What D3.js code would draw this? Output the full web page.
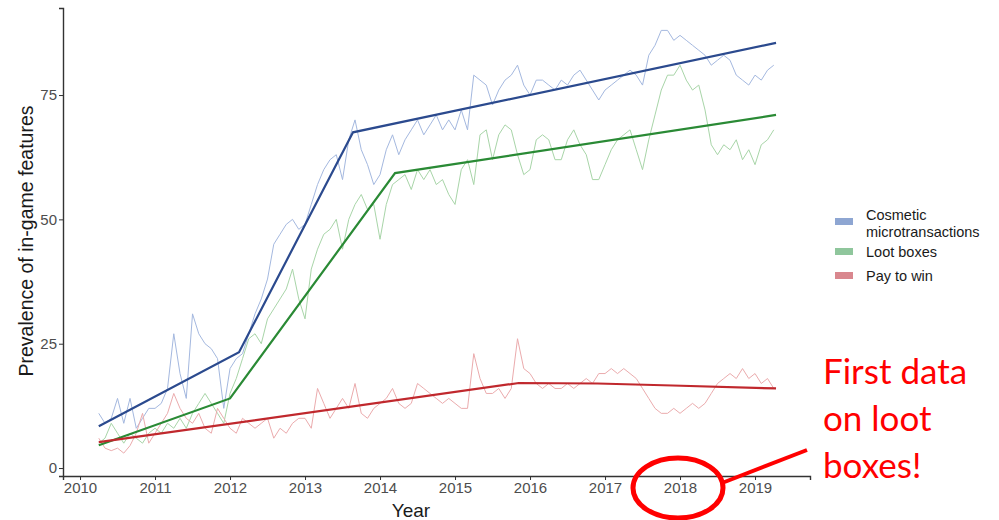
<!DOCTYPE html>
<html lang="en">
<head>
<meta charset="UTF-8">
<title>Prevalence of in-game features</title>
<style>
  body { margin: 0; background: #fff; }
  svg text { font-family: "Liberation Sans", Arial, sans-serif; }
</style>
</head>
<body>
<script src="https://d3js.org/d3.v7.min.js"></script>
<script>

// monthly readings, first one at 2010.25
var startYear = 2010.25,
    monthStep = 1 / 12;

var cosmetic = [
  11, 9, 10, 14, 9, 14, 8, 10, 12,
  12, 13, 16, 27, 19, 14, 31, 27, 25, 24, 22, 12,
  20, 22, 23, 27, 31, 34, 38, 45, 47, 49, 50, 48,
  49, 53, 57, 60, 62, 63, 58, 66, 70, 64, 61, 57,
  59, 64, 67, 63, 66, 68, 70, 67, 69, 71, 68, 70,
  68, 72, 68, 79, 78, 77, 73, 76, 78, 79, 81, 77,
  75, 78, 78, 77, 76, 78, 77, 79, 80, 78, 76, 74,
  76, 77, 78, 79, 80, 79, 77, 83, 85, 88, 88, 86,
  87, 86, 85, 84, 83, 81, 82, 83, 82, 79, 78, 77,
  79, 78, 80, 81
];

var lootBoxes = [
  5, 6, 9, 7, 5, 7, 6, 5, 7,
  8, 7, 9, 8, 10, 8, 11, 13, 15, 13, 11, 9,
  15, 18, 22, 26, 27, 25, 30, 32, 34, 36, 40, 34,
  30, 40, 44, 47, 48, 50, 44, 50, 53, 55, 52, 53,
  46, 53, 57, 58, 59, 56, 60, 58, 60, 57, 58, 55,
  53, 60, 62, 57, 67, 68, 62, 67, 69, 68, 63, 59,
  60, 66, 67, 66, 62, 62, 66, 68, 65, 63, 58, 58,
  61, 64, 66, 67, 68, 64, 60, 66, 71, 76, 79, 79,
  81, 78, 76, 77, 72, 65, 63, 65, 64, 66, 62, 64,
  61, 65, 66, 68
];

var payToWin = [
  6, 4, 3.5, 4, 3, 4.5, 7, 11, 5,
  7, 9, 11, 15, 12, 10, 9, 11, 8, 7, 12, 10,
  8, 7, 10, 9, 8, 9, 10, 6, 8, 7, 9, 10,
  10, 8, 16, 13, 10, 12, 14, 12, 17, 11, 10, 12,
  13, 14, 16, 13, 12, 13, 17, 16, 15, 14, 13, 14,
  13, 12, 12, 23, 18, 15, 15, 16, 14, 16, 26, 20,
  19, 17, 16, 17, 16, 16, 17, 16, 17, 18, 17, 19,
  19, 20, 19, 20, 19, 18, 16, 14, 12, 11, 11, 12,
  11, 12, 13, 12, 13, 15, 17, 18, 19, 18, 20, 18,
  19, 17, 18, 16
];

// fitted segmented trends: [year, value]
var cosmeticTrend = [[2010.25, 8.4], [2012.12, 23.3], [2013.64, 67.5], [2019.28, 85.5]];
var lootTrend = [[2010.25, 4.6], [2012.0, 14], [2014.2, 59.3], [2019.28, 71]];
var payTrend = [[2010.25, 5.2], [2015.85, 17.1], [2016.9, 17.0], [2017.9, 16.6], [2019.28, 16.0]];

var seriesNames = ["Cosmetic microtransactions", "Loot boxes", "Pay to win"];
var yearTicks = [2010, 2011, 2012, 2013, 2014, 2015, 2016, 2017, 2018, 2019];
var valueTicks = [0, 25, 50, 75];

var rawColors = ["#a4b8df", "#a8d5a8", "#ebabad"],
    trendColors = ["#2b4a8e", "#2a8a35", "#c0282d"],
    keyColors = ["#8ea6d2", "#8fc69c", "#d9878e"];

var width = 999, height = 520;
var svg = d3.select("body").append("svg")
  .attr("width", width)
  .attr("height", height);

var x = d3.scaleLinear().domain([2009.773, 2019.733]).range([63, 810]);
var y = d3.scaleLinear().domain([-1.6, 92.5]).range([476, 8]);

// noisy monthly series
var line = d3.line()
  .x(function(d, i) { return x(startYear + i * monthStep); })
  .y(function(d) { return y(d); });

[cosmetic, lootBoxes, payToWin].forEach(function(s, k) {
  svg.append("path")
    .attr("d", line(s))
    .attr("fill", "none")
    .attr("stroke", rawColors[k])
    .attr("stroke-width", 1)
    .attr("stroke-linejoin", "round");
});

var trendLine = d3.line()
  .x(function(d) { return x(d[0]); })
  .y(function(d) { return y(d[1]); });

[cosmeticTrend, lootTrend, payTrend].forEach(function(s, k) {
  svg.append("path")
    .attr("d", trendLine(s))
    .attr("fill", "none")
    .attr("stroke", trendColors[k])
    .attr("stroke-width", 2.2);
});

// axes
var xAxis = svg.append("g")
  .attr("transform", "translate(0,476)")
  .call(d3.axisBottom(x).tickValues(yearTicks).tickFormat(d3.format("d")).tickSize(4).tickPadding(2));
var yAxis = svg.append("g")
  .attr("transform", "translate(63,0)")
  .call(d3.axisLeft(y).tickValues(valueTicks).tickSize(4).tickPadding(2));

[xAxis, yAxis].forEach(function(a) {
  a.select(".domain").attr("stroke", "#333").attr("stroke-width", 1.4);
  a.selectAll(".tick line").attr("stroke", "#333");
  a.selectAll(".tick text").attr("fill", "#4d4d4d").style("font-size", "15px");
});

svg.append("text")
  .attr("x", 411).attr("y", 517)
  .attr("text-anchor", "middle")
  .attr("fill", "#1a1a1a")
  .style("font-size", "19px")
  .text("Year");

svg.append("text")
  .attr("transform", "translate(33,241) rotate(-90)")
  .attr("text-anchor", "middle")
  .attr("fill", "#1a1a1a")
  .style("font-size", "19.5px")
  .text("Prevalence of in-game features");

// legend
var legendRows = [
  { lines: ["Cosmetic", "microtransactions"], keyY: 222, textY: 220 },
  { lines: ["Loot boxes"], keyY: 252, textY: 257 },
  { lines: ["Pay to win"], keyY: 276, textY: 281 }
];
legendRows.forEach(function(r, k) {
  svg.append("rect")
    .attr("x", 835).attr("y", r.keyY - 4)
    .attr("width", 18).attr("height", 7)
    .attr("fill", keyColors[k]);
  var t = svg.append("text")
    .attr("x", 866).attr("y", r.textY)
    .attr("fill", "#1a1a1a")
    .style("font-size", "14.5px");
  r.lines.forEach(function(l, j) {
    t.append("tspan").attr("x", 866).attr("dy", j ? 17 : 0).text(l);
  });
});

// annotation
svg.append("ellipse")
  .attr("cx", 678).attr("cy", 488)
  .attr("rx", 45).attr("ry", 30)
  .attr("fill", "none")
  .attr("stroke", "#ff0000")
  .attr("stroke-width", 5);

svg.append("line")
  .attr("x1", 722).attr("y1", 483)
  .attr("x2", 807).attr("y2", 450)
  .attr("stroke", "#ff0000")
  .attr("stroke-width", 4);

var note = svg.append("text")
  .attr("x", 823).attr("y", 384)
  .attr("fill", "#ff0000")
  .style("font-family", "Lato, 'Noto Sans', sans-serif")
  .style("font-size", "35px");
["First data", "on loot", "boxes!"].forEach(function(l, j) {
  note.append("tspan").attr("x", 823).attr("dy", j ? 47 : 0).text(l);
});

</script>
</body>
</html>
